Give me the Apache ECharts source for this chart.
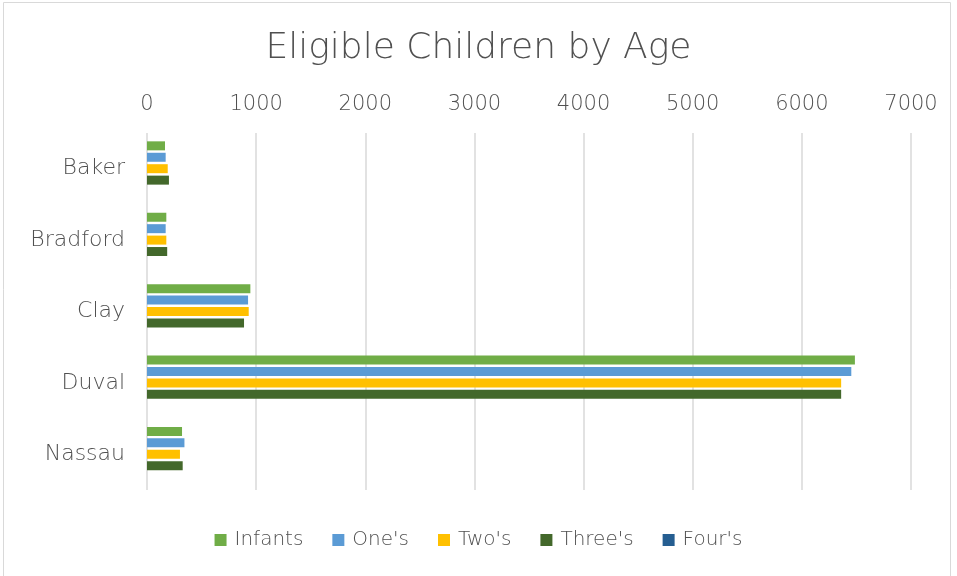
<!DOCTYPE html>
<html><head><meta charset="utf-8">
<script src="https://cdn.jsdelivr.net/npm/echarts@6/dist/echarts.min.js"></script>
<style>html,body{margin:0;padding:0;background:#fff}#c{width:957px;height:576px}</style>
</head><body><div id="c"></div>
<script>
const categories = ["Baker", "Bradford", "Clay", "Duval", "Nassau"];
const infants = [165, 177, 947, 6486, 321];
const ones = [171, 171, 926, 6453, 343];
const twos = [190, 177, 932, 6360, 302];
const threes = [201, 185, 889, 6360, 327];
const fours = [0, 0, 0, 0, 0];
const seriesNames = ["Infants", "One's", "Two's", "Three's", "Four's"];
const colors = ["#70AD47", "#5B9BD5", "#FFC000", "#43682B", "#255E91"];
const FONT = "'DejaVu Sans', sans-serif";
const TXT = '#505050';
const chart = echarts.init(document.getElementById('c'));
const dataSets = [infants, ones, twos, threes, fours];
chart.setOption({
  animation: false,
  title: { text: 'Eligible Children by Age', left: 'center', top: 26,
    textStyle: { fontFamily: FONT, fontSize: 36, fontWeight: 200, color: TXT } },
  graphic: [{ type: 'rect', shape: { x: 3.5, y: 2.5, width: 947, height: 580 }, style: { fill: 'none', stroke: '#d9d9d9', lineWidth: 1 }, silent: true }],
  grid: { left: 147, right: 46, top: 133, bottom: 86, containLabel: false },
  legend: { bottom: 21, left: 'center', itemWidth: 12, itemHeight: 12, itemGap: 29, icon: 'rect',
    textStyle: { fontFamily: FONT, fontSize: 20, fontWeight: 200, color: TXT, padding: [0, 0, 0, 3] }, data: seriesNames },
  xAxis: { type: 'value', position: 'top', min: 0, max: 7000, interval: 1000,
    axisLine: { show: false }, axisTick: { show: false },
    axisLabel: { fontFamily: FONT, fontSize: 21, fontWeight: 200, color: TXT, margin: 18, formatter: v => String(v) },
    splitLine: { lineStyle: { color: '#d9d9d9', width: 1.5 } } },
  yAxis: { type: 'category', data: categories, inverse: true,
    axisLine: { show: false }, axisTick: { show: false },
    axisLabel: { fontFamily: FONT, fontSize: 22, fontWeight: 200, color: TXT, margin: 22 } },
  series: seriesNames.map((n, i) => ({ name: n, type: 'bar', data: dataSets[i],
    barWidth: 9, barGap: '27%', itemStyle: { color: colors[i] } }))
});
</script></body></html>
